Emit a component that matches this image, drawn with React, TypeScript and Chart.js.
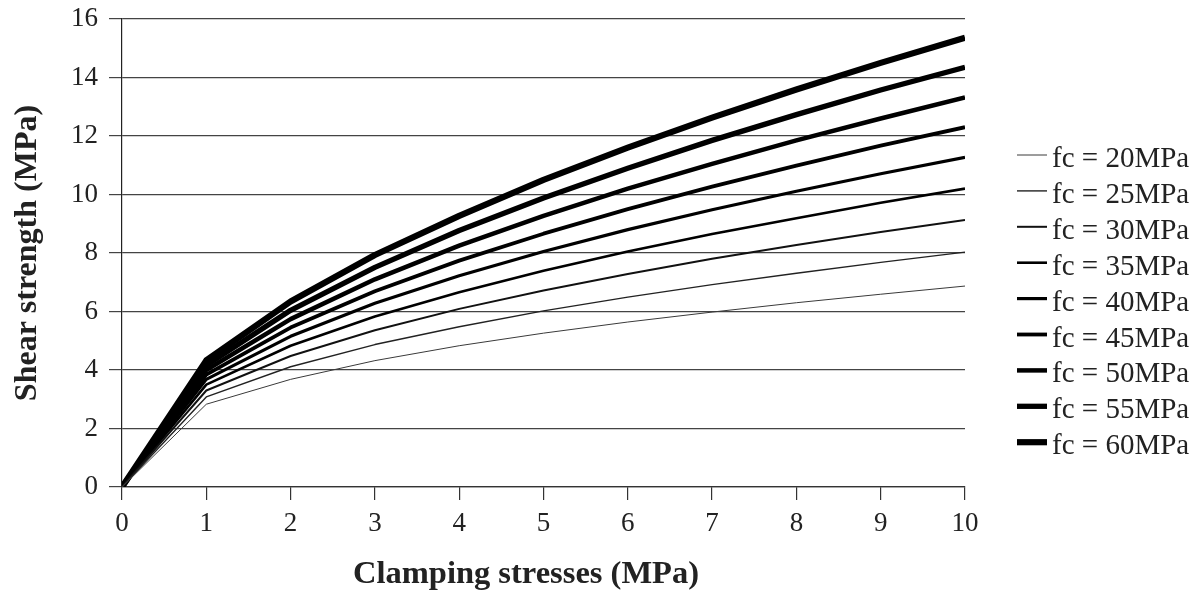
import React, { useEffect, useRef } from "react";
import { Chart, registerables } from "chart.js";

Chart.register(...registerables);

// Clamping stresses (MPa) on the x axis
const clampingStress = [0, 1, 2, 3, 4, 5, 6, 7, 8, 9, 10];

// Shear strength (MPa) per concrete strength fc
const fc20 = [0, 2.83, 3.68, 4.32, 4.83, 5.26, 5.64, 5.98, 6.3, 6.59, 6.87];
const fc25 = [0, 3.08, 4.11, 4.87, 5.48, 6.02, 6.49, 6.92, 7.31, 7.68, 8.03];
const fc30 = [0, 3.3, 4.48, 5.36, 6.09, 6.72, 7.28, 7.8, 8.27, 8.72, 9.13];
const fc35 = [0, 3.5, 4.83, 5.83, 6.66, 7.39, 8.05, 8.65, 9.19, 9.72, 10.2];
const fc40 = [0, 3.68, 5.15, 6.28, 7.22, 8.05, 8.8, 9.48, 10.11, 10.71, 11.27];
const fc45 = [0, 3.84, 5.45, 6.69, 7.74, 8.66, 9.5, 10.27, 10.99, 11.67, 12.3];
const fc50 = [0, 4.0, 5.74, 7.1, 8.25, 9.27, 10.2, 11.05, 11.85, 12.6, 13.32];
const fc55 = [0, 4.16, 6.04, 7.51, 8.77, 9.88, 10.9, 11.85, 12.73, 13.57, 14.35];
const fc60 = [0, 4.33, 6.34, 7.93, 9.27, 10.5, 11.6, 12.63, 13.59, 14.5, 15.36];

const seriesLabels = [
  "fc = 20MPa",
  "fc = 25MPa",
  "fc = 30MPa",
  "fc = 35MPa",
  "fc = 40MPa",
  "fc = 45MPa",
  "fc = 50MPa",
  "fc = 55MPa",
  "fc = 60MPa",
];
const seriesValues = [fc20, fc25, fc30, fc35, fc40, fc45, fc50, fc55, fc60];

const lineWidths = [1, 1.4, 2, 2.6, 3.2, 3.8, 4.5, 5.3, 6.2];
const lineColors = ["#3a3a3a", "#222222", "#111111", "#000000", "#000000", "#000000", "#000000", "#000000", "#000000"];

const xTitle = "Clamping stresses (MPa)";
const yTitle = "Shear strength (MPa)";

const SERIF = '"Liberation Serif", "Times New Roman", serif';

// Legend layout (canvas pixels = page pixels)
const LEGEND_LINE_X = 1017;
const LEGEND_LINE_LEN = 30;
const LEGEND_TEXT_X = 1052;
const LEGEND_FIRST_Y = 155;
const LEGEND_STEP = 35.9;

// X-axis title placement
const X_TITLE_CENTER = 526;
const X_TITLE_BASELINE = 583;

const sideLegend = {
  id: "sideLegend",
  afterDraw(chart: any) {
    const ctx = chart.ctx;
    ctx.save();
    chart.data.datasets.forEach((ds: any, i: number) => {
      const y = LEGEND_FIRST_Y + i * LEGEND_STEP;
      ctx.beginPath();
      ctx.strokeStyle = ds.borderColor;
      ctx.lineWidth = ds.borderWidth;
      ctx.lineCap = "butt";
      ctx.moveTo(LEGEND_LINE_X, y);
      ctx.lineTo(LEGEND_LINE_X + LEGEND_LINE_LEN, y);
      ctx.stroke();
      ctx.fillStyle = "#222";
      ctx.font = `29px ${SERIF}`;
      ctx.textAlign = "left";
      ctx.textBaseline = "alphabetic";
      ctx.fillText(ds.label, LEGEND_TEXT_X, y + 12);
    });
    // x-axis title
    ctx.fillStyle = "#222";
    ctx.font = `bold 32.5px ${SERIF}`;
    ctx.textAlign = "center";
    ctx.textBaseline = "alphabetic";
    ctx.fillText(xTitle, X_TITLE_CENTER, X_TITLE_BASELINE);
    ctx.restore();
  },
};

export default function App() {
  const canvasRef = useRef<HTMLCanvasElement | null>(null);

  useEffect(() => {
    if (!canvasRef.current) return;
    const datasets = seriesValues.map((vals, i) => ({
      label: seriesLabels[i],
      data: clampingStress.map((x, j) => ({ x, y: vals[j] })),
      borderColor: lineColors[i],
      backgroundColor: lineColors[i],
      borderWidth: lineWidths[i],
      pointRadius: 0,
      pointHoverRadius: 0,
      tension: 0,
      borderJoinStyle: "round" as const,
      fill: false,
    }));

    const chart = new Chart(canvasRef.current, {
      type: "line",
      data: { datasets },
      plugins: [sideLegend],
      options: {
        animation: false,
        responsive: true,
        maintainAspectRatio: false,
        devicePixelRatio: 1,
        layout: { padding: { left: 0, right: 235, top: 19, bottom: 0 } },
        plugins: {
          legend: { display: false },
          tooltip: { enabled: false },
        },
        scales: {
          x: {
            type: "linear",
            min: 0,
            max: 10,
            ticks: {
              stepSize: 1,
              color: "#222",
              padding: 8,
              font: { family: SERIF, size: 27, lineHeight: 1.2 },
            },
            grid: {
              drawOnChartArea: false,
              drawTicks: true,
              tickLength: 13,
              color: "#333",
              lineWidth: 1.2,
            },
            border: { display: true, color: "#333", width: 1.2 },
            title: { display: false, text: xTitle },
            afterFit: (scale: any) => {
              scale.height = 105;
            },
          },
          y: {
            type: "linear",
            min: 0,
            max: 16,
            ticks: {
              stepSize: 2,
              color: "#222",
              padding: 11,
              font: { family: SERIF, size: 27, lineHeight: 0 },
            },
            grid: {
              drawOnChartArea: true,
              drawTicks: true,
              tickLength: 13,
              color: "#444",
              lineWidth: 1.2,
            },
            border: { display: true, color: "#222", width: 1.2 },
            title: {
              display: true,
              text: yTitle,
              color: "#222",
              padding: { top: 12, bottom: 0 },
              font: { family: SERIF, size: 32, weight: "bold", lineHeight: 1 },
            },
            afterFit: (scale: any) => {
              scale.width = 122;
            },
          },
        },
      },
    });
    return () => chart.destroy();
  }, []);

  return (
    <div style={{ position: "fixed", left: 0, top: 0, width: 1200, height: 592, background: "#fff" }}>
      <canvas ref={canvasRef} />
    </div>
  );
}
